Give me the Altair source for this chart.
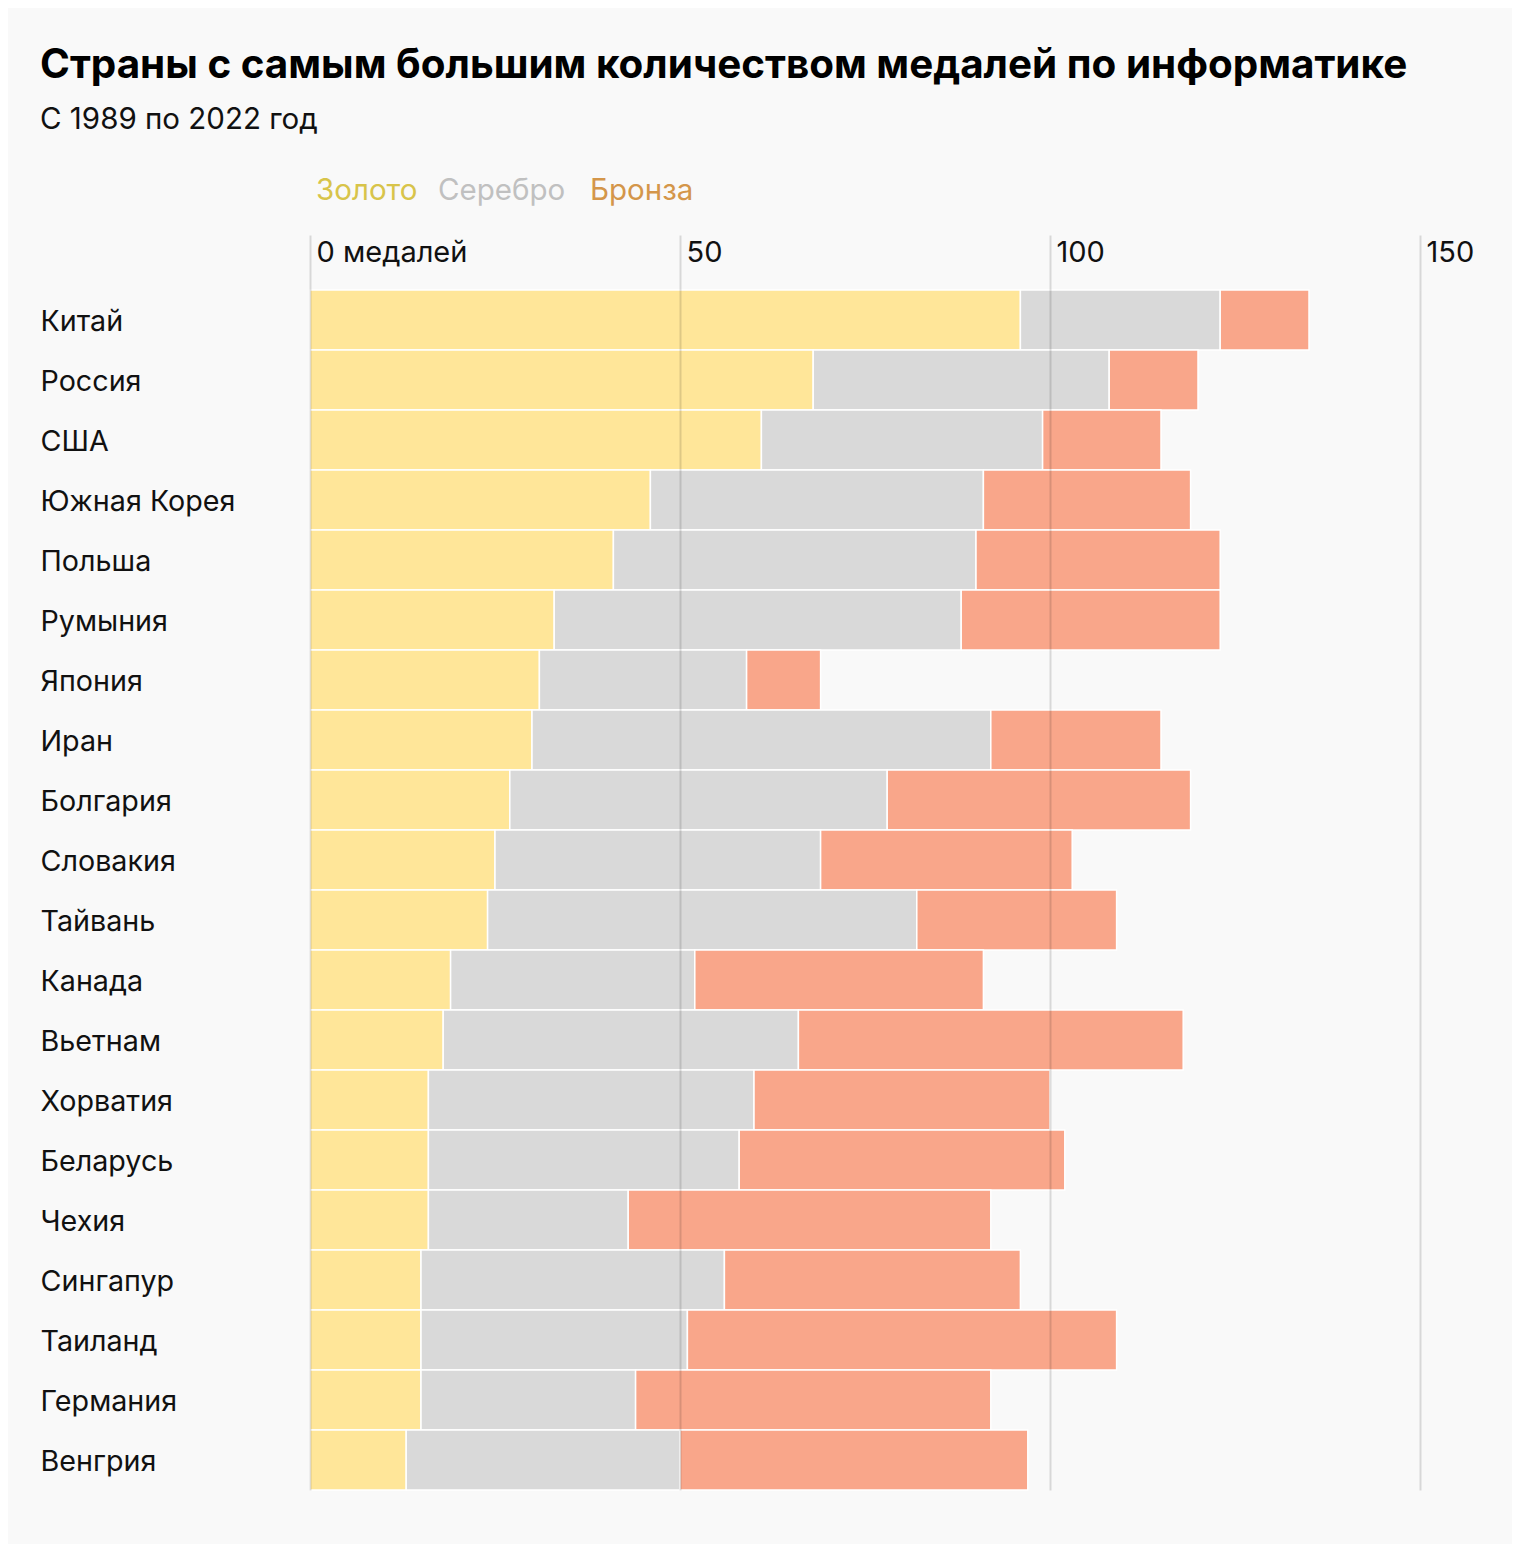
import altair as alt
import pandas as pd

countries = ["Китай", "Россия", "США", "Южная Корея", "Польша", "Румыния", "Япония",
             "Иран", "Болгария", "Словакия", "Тайвань", "Канада", "Вьетнам", "Хорватия",
             "Беларусь", "Чехия", "Сингапур", "Таиланд", "Германия", "Венгрия"]
gold   = [96, 68, 61, 46, 41, 33, 31, 30, 27, 25, 24, 19, 18, 16, 16, 16, 15, 15, 15, 13]
silver = [27, 40, 38, 45, 49, 55, 28, 62, 51, 44, 58, 33, 48, 44, 42, 27, 41, 36, 29, 37]
bronze = [12, 12, 16, 28, 33, 35, 10, 23, 41, 34, 27, 39, 52, 40, 44, 49, 40, 58, 48, 47]

medals = ["Золото", "Серебро", "Бронза"]
bar_colors = ["#FFE699", "#D9D9D9", "#F9A68A"]
legend_colors = ["#D8C44A", "#C0C0C0", "#D4964A"]
x_ticks = [0, 50, 100, 150]

rows = []
for i, c in enumerate(countries):
    for k, (m, vals) in enumerate(zip(medals, [gold, silver, bronze])):
        rows.append({"country": c, "medal": m, "order": k, "value": vals[i]})
df = pd.DataFrame(rows)

FONT = "Inter"

bars = alt.Chart(df).mark_bar(stroke="white", strokeWidth=1.5).encode(
    y=alt.Y("country:N", sort=countries, title=None,
            scale=alt.Scale(paddingInner=0, paddingOuter=0),
            axis=alt.Axis(orient="left", ticks=False, domain=False, grid=False,
                          labelAlign="left", labelPadding=270, labelFontSize=28.7,
                          labelOffset=2,
                          labelFont=FONT, labelColor="#111111", labelLimit=300)),
    x=alt.X("value:Q", stack="zero", title=None,
            scale=alt.Scale(domain=[0, 150], nice=False),
            axis=alt.Axis(orient="top", values=x_ticks, domain=False,
                          grid=True, gridColor="#000000", gridOpacity=0.13, gridWidth=2,
                          ticks=True, tickSize=55, tickColor="#000000", tickOpacity=0.13,
                          tickWidth=2, labelAlign="left", labelBaseline="top",
                          labelPadding=-3, labelOffset=6, labelFontSize=29, labelFont=FONT,
                          labelColor="#111111", labelFlush=False,
                          labelExpr="datum.value == 0 ? '0 медалей' : datum.label",
                          zindex=1)),
    color=alt.Color("medal:N", scale=alt.Scale(domain=medals, range=bar_colors), legend=None),
    order=alt.Order("order:Q"),
)

legend_x = [6, 128, 280]
legend_layers = []
for m, col, lx in zip(medals, legend_colors, legend_x):
    legend_layers.append(
        alt.Chart(alt.Data(values=[{"t": m}])).mark_text(
            align="left", baseline="middle", fontSize=29.5, font=FONT, color=col
        ).encode(text="t:N", x=alt.value(lx), y=alt.value(-99))
    )

chart = alt.layer(bars, *legend_layers).properties(
    width=1110, height=1200,
    title=alt.Title(
        "Страны с самым большим количеством медалей по информатике",
        subtitle="С 1989 по 2022 год",
        anchor="start", frame="group", dx=-270,
        font=FONT, fontSize=40.4, fontWeight="bold", color="#000000",
        subtitleFont=FONT, subtitleFontSize=29.5, subtitleColor="#111111",
        subtitlePadding=19, offset=42,
    ),
    padding={"left": 302, "top": 282, "right": 92, "bottom": 54},
    autosize=alt.AutoSizeParams(type="none"),
    background="#F9F9F9",
).configure_view(stroke=None)

chart.save("out.html", embed_options={"renderer": "svg", "actions": False})
